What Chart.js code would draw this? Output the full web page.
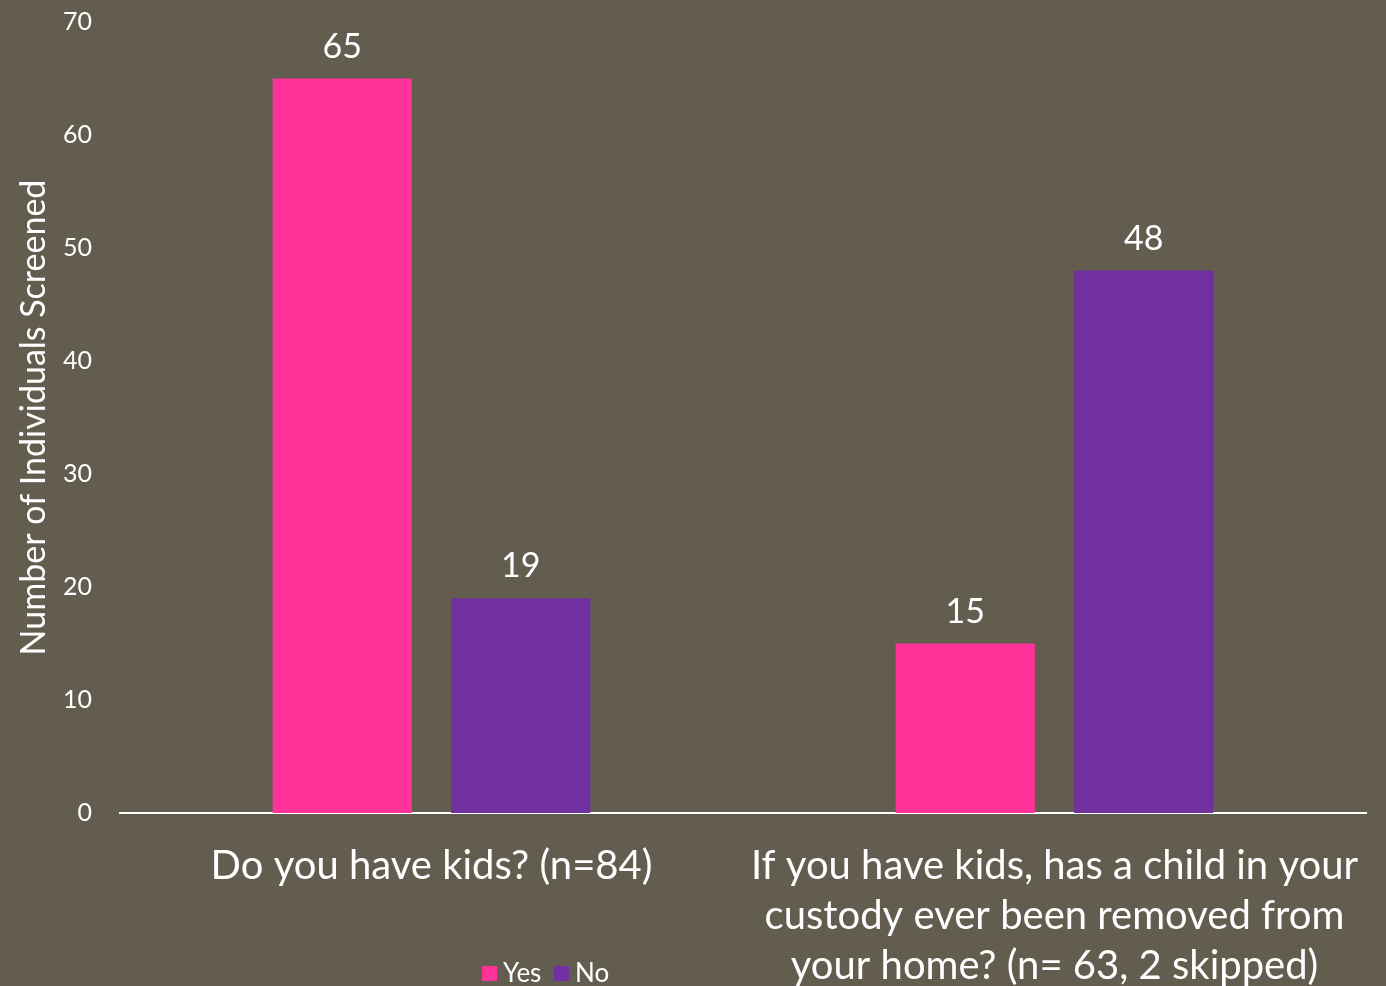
<!DOCTYPE html>
<html>
<head>
<meta charset="utf-8">
<title>Kids and custody screening</title>
<script src="https://cdn.jsdelivr.net/npm/chart.js@4.4.1/dist/chart.umd.min.js"></script>
<style>
  html, body {
    margin: 0;
    padding: 0;
    background: #625d4e;
  }
  #wrap {
    width: 1386px;
    height: 986px;
  }
</style>
</head>
<body>
<div id="wrap"><canvas id="kidsChart"></canvas></div>
<script>
const questions = [
  'Do you have kids? (n=84)',
  ['If you have kids, has a child in your', 'custody ever been removed from', 'your home? (n= 63, 2 skipped)']
];
const yesCounts = [65, 15];
const noCounts = [19, 48];
const yTicks = [0, 10, 20, 30, 40, 50, 60, 70];

const FONT = 'Lato, "Open Sans", sans-serif';

// value labels above each bar
const barValues = {
  id: 'barValues',
  afterDatasetsDraw(chart) {
    const ctx = chart.ctx;
    ctx.save();
    ctx.fillStyle = '#ffffff';
    ctx.font = '34px ' + FONT;
    ctx.textAlign = 'center';
    ctx.textBaseline = 'alphabetic';
    chart.data.datasets.forEach((ds, i) => {
      chart.getDatasetMeta(i).data.forEach((bar, j) => {
        ctx.fillText(String(ds.data[j]), bar.x, bar.y - 21);
      });
    });
    ctx.restore();
  }
};

// small legend sitting under the first category
const smallLegend = {
  id: 'smallLegend',
  afterDraw(chart) {
    const ctx = chart.ctx;
    ctx.save();
    ctx.font = '26px ' + FONT;
    ctx.textBaseline = 'middle';
    let x = 482;
    const y = 973;
    chart.data.datasets.forEach(ds => {
      ctx.fillStyle = ds.backgroundColor;
      ctx.fillRect(x, y - 7, 15, 15);
      ctx.fillStyle = '#ffffff';
      ctx.fillText(ds.label, x + 21, y + 1);
      x += 72;
    });
    ctx.restore();
  }
};

new Chart(document.getElementById('kidsChart'), {
  type: 'bar',
  data: {
    labels: questions,
    datasets: [
      { label: 'Yes', data: yesCounts, backgroundColor: '#ff3399' },
      { label: 'No', data: noCounts, backgroundColor: '#7030a0' }
    ]
  },
  options: {
    responsive: true,
    maintainAspectRatio: false,
    animation: false,
    categoryPercentage: 0.573,
    barPercentage: 0.78,
    layout: { padding: { top: 22, right: 20, left: 0, bottom: 0 } },
    plugins: {
      legend: { display: false },
      tooltip: { enabled: false }
    },
    scales: {
      x: {
        grid: { display: false },
        border: { display: true, color: '#ffffff', width: 2 },
        ticks: {
          color: '#ffffff',
          font: { family: FONT, size: 40, lineHeight: 1.25 },
          padding: 20,
          maxRotation: 0,
          autoSkip: false
        },
        afterFit(scale) { scale.height = 173; }
      },
      y: {
        min: 0,
        max: 70,
        afterBuildTicks(scale) { scale.ticks = yTicks.map(v => ({ value: v })); },
        grid: { display: false },
        border: { display: false },
        ticks: {
          color: '#ffffff',
          font: { family: FONT, size: 25 },
          padding: 20
        },
        title: {
          display: true,
          text: 'Number of Individuals Screened',
          color: '#ffffff',
          font: { family: FONT, size: 34 },
          padding: { top: 14, bottom: 0 }
        },
        afterFit(scale) {
          scale.width = 120;
          scale.paddingTop = 0;
          scale.paddingBottom = 0;
        }
      }
    }
  },
  plugins: [barValues, smallLegend]
});
</script>
</body>
</html>
